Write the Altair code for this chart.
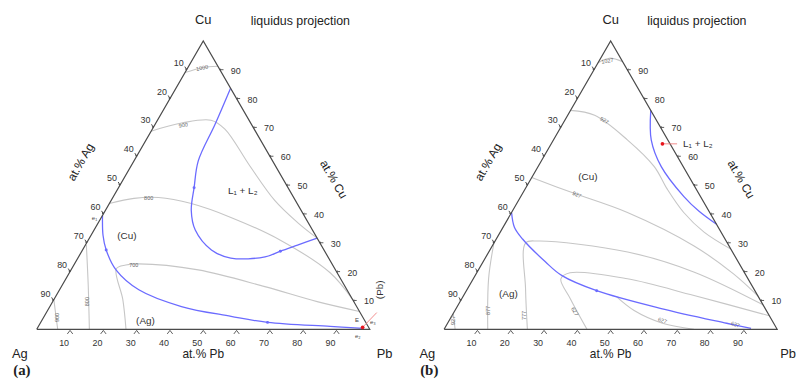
import altair as alt
import numpy as np
import pandas as pd

# ---------------- data (compositions in at.%: Pb, Cu ; Ag = 100 - Pb - Cu) ----------------
TICKS = [10, 20, 30, 40, 50, 60, 70, 80, 90]

# panel (a) liquidus isotherms (gray)
A_GRAY = {
    "1000": ([0, 4.3, 8.8], [89.0, 90.7, 91.2]),
    "900": ([0, 7.7, 16.1, 21.8, 35.6, 49.1, 59.7, 68.4], [68.7, 71.5, 72.5, 69.4, 56.7, 44.7, 37.1, 31.6]),
    "800": ([0, 6.5, 13.7, 24.6, 38.9, 57.7, 78.3, 89.7], [43.6, 45.4, 45.7, 43.6, 38.8, 30.9, 19.6, 10.3]),
    "700": ([26.8, 20.7, 13.4, 15.6, 19.3, 38.2, 61.1, 79.4, 93.8], [0, 10.3, 21.0, 22.3, 22.7, 20.6, 14.8, 9.6, 6.2]),
    "800v": ([0.3, 7.7, 15.8], [29.2, 15.5, 0]),
    "900v": ([0, 3.1, 6.3], [10.3, 5.2, 0]),
}
# panel (a) monovariant lines (blue)
A_BLUE = {
    "L1L2": ([16.4, 18.0, 19.3, 22.7, 25.8, 30.4, 38.7, 45.9, 56.0, 59.6, 63.7, 68.4],
             [83.6, 71.1, 58.4, 49.1, 41.2, 34.4, 27.5, 24.7, 25.1, 27.1, 29.2, 31.6]),
    "e1E": ([0, 3.6, 7.1, 13.5, 23.8, 39.5, 56.1, 68.1, 87.6, 98.0],
            [39.5, 32.6, 27.5, 20.6, 13.7, 7.9, 4.5, 2.4, 1.0, 0.3]),
}
A_DOT_PB = [22.7, 59.6, 7.1, 68.1]
A_DOT_CU = [49.1, 27.1, 27.5, 2.4]
A_RED_PB = [97.5]
A_RED_CU = [0.7]
A_REDLINE_PB = [97.5, 99.2]
A_REDLINE_CU = [0.7, 5.8]
A_ISO_TEXT = ["1000", "900", "800", "700", "800", "900"]
A_ISO_PB = [4.3, 8.6, 10.9, 18.0, 10.4, 3.9]
A_ISO_CU = [90.7, 70.8, 45.4, 22.3, 9.6, 4.1]
A_ISO_ANG = [348, 352, 0, 0, 270, 270]
A_PHASE_TEXT = ["(Cu)", "(Ag)", "L\u2081 + L\u2082"]
A_PHASE_PB = [10.9, 31.3, 37.8]
A_PHASE_CU = [32.3, 2.7, 48.1]
A_SMALL_TEXT = ["E", "e\u2081", "e\u2082", "e\u2083"]
A_SMALL_PB = [94.6, -1.9, 97.6, 99.7]
A_SMALL_CU = [3.1, 38.5, -2.4, 2.4]

# panel (b)
B_GRAY = {
    "1027": ([0, 2.6, 7.2], [92.4, 94.0, 92.8]),
    "927u": ([0, 8.1, 22.3, 34.9, 42.8, 51.7, 61.2, 72.2], [75.9, 74.2, 65.6, 56.4, 48.5, 40.5, 33.7, 27.8]),
    "927l": ([0, 14.7, 34.8, 60.6, 77.3, 88.5], [52.6, 47.4, 40.5, 28.9, 19.2, 11.5]),
    "c": ([25.0, 17.4, 9.5, 13.0, 41.7, 65.0, 91.5], [0, 14.1, 29.9, 30.6, 26.8, 19.9, 8.5]),
    "d": ([42.9, 32.5, 26.3, 28.0, 46.3, 69.2, 95.3], [0, 10.7, 17.5, 19.6, 17.5, 11.7, 4.7]),
    "e": ([46.1, 53.8, 64.5, 75.0], [11.3, 6.5, 2.1, 0]),
    "f": ([0, 4.6, 13.1], [29.9, 17.5, 0]),
    "g": ([0, 3.3], [5.5, 0]),
}
B_BLUE = {
    "L1L2": ([24.1, 29.4, 37.0, 49.0, 56.1, 63.6], [75.9, 65.6, 56.4, 46.0, 40.9, 36.4]),
    "e1E": ([0, 3.4, 7.9, 18.7, 26.1, 39.1, 61.6, 83.8, 92.0], [40.5, 35.4, 31.3, 23.4, 18.6, 13.4, 7.2, 2.1, 0.3]),
}
B_DOT_PB = [39.1]
B_DOT_CU = [13.4]
B_RED_PB = [33.4]
B_RED_CU = [64.3]
B_REDLINE_PB = [33.4, 37.8]
B_REDLINE_CU = [64.3, 64.3]
B_ISO_TEXT = ["1027", "927", "927", "927", "877", "777", "627", "627", "627"]
B_ISO_PB = [2.5, 11.9, 16.5, 1.2, 9.8, 21.7, 36.2, 64.0, 86.6]
B_ISO_CU = [93.1, 72.5, 46.7, 3.1, 6.5, 4.8, 6.2, 3.1, 1.7]
B_ISO_ANG = [350, 30, 25, 270, 270, 270, 60, 20, 20]
B_PHASE_TEXT = ["(Cu)", "(Ag)"]
B_PHASE_PB = [16.7, 13.1]
B_PHASE_CU = [52.9, 12.4]
B_L12_PB = [38.7]
B_L12_CU = [64.3]

# axis-title anchor compositions (outside the triangle)
AG_TITLE_PB, AG_TITLE_CU = -15.8, 58.0
CU_TITLE_PB, CU_TITLE_CU = 63.2, 52.0

# ---------------- helpers ----------------
S = np.sqrt(3) / 2
SANS = "Liberation Sans"
GRAY = "#c6c6c6"
BLUE = "#6b6bff"
DARK = "#4a4a4a"
YS = alt.Scale(domain=[-0.1443, 0.9598], nice=False, zero=False)
X0 = -0.0863
PX = 336.0  # pixels per unit side


def xy(pb, cu):
    pb = np.asarray(pb, float)
    cu = np.asarray(cu, float)
    return pb / 100 + cu / 200, cu / 100 * S


def pts(pb, cu, **extra):
    x, y = xy(pb, cu)
    d = pd.DataFrame({"x": x, "y": y, "i": np.arange(len(x))})
    for k, v in extra.items():
        d[k] = v
    return d


def curves(dct):
    frames = []
    for name, (pb, cu) in dct.items():
        frames.append(pts(pb, cu, curve=name))
    return pd.concat(frames, ignore_index=True)


ARROW = "M0,0L2.4,0M0,0L0.75,-0.6M0,0L0.75,0.6"
CARET = "M-1,1.7L0,0.4L1,1.7"


def panel(width, gray, blue, dot_pb, dot_cu, red_pb, red_cu, rl_pb, rl_cu,
          iso_t, iso_pb, iso_cu, iso_ang, ph_t, ph_pb, ph_cu, letter, liq_dx, pb_dx, extra):
    XS = alt.Scale(domain=[X0, X0 + width / PX], nice=False, zero=False)

    def enc(**kw):
        return dict(x=alt.X("x:Q", scale=XS, axis=None), y=alt.Y("y:Q", scale=YS, axis=None), **kw)

    def text_layer(df, size=9, color="#333", **mk):
        return alt.Chart(df).mark_text(font=SANS, fontSize=size, color=color, **mk).encode(**enc(text="t:N"))

    layers = []
    layers.append(alt.Chart(curves(gray)).mark_line(color=GRAY, strokeWidth=1.1, interpolate="catmull-rom")
                  .encode(**enc(detail="curve:N", order="i:Q")))
    layers.append(alt.Chart(curves(blue)).mark_line(color=BLUE, strokeWidth=1.3, interpolate="catmull-rom")
                  .encode(**enc(detail="curve:N", order="i:Q")))
    vpb = [0, 100, 0, 0]
    vcu = [0, 0, 100, 0]
    layers.append(alt.Chart(pts(vpb, vcu)).mark_line(color=DARK, strokeWidth=1.2)
                  .encode(**enc(order="i:Q")))
    t = np.array(TICKS, float)
    zeros = np.zeros_like(t)
    bottom = pts(t, zeros, t=[str(int(v)) for v in t])
    left = pts(zeros, 100 - t, t=[str(int(v)) for v in t])
    right = pts(100 - t, t, t=[str(int(v)) for v in t])
    layers.append(alt.Chart(bottom).mark_point(shape=CARET, size=30, filled=False, color=DARK, strokeWidth=0.9, opacity=1)
                  .encode(**enc()))
    layers.append(alt.Chart(left).mark_point(shape=ARROW, size=9, filled=False, color=DARK, strokeWidth=0.9, opacity=1, angle=240)
                  .encode(**enc()))
    layers.append(alt.Chart(right).mark_point(shape=ARROW, size=9, filled=False, color=DARK, strokeWidth=0.9, opacity=1)
                  .encode(**enc()))
    layers.append(text_layer(bottom, dx=-6, dy=14))
    layers.append(text_layer(left, dx=-8, dy=-7))
    layers.append(text_layer(right, align="left", dx=11, dy=1))
    layers.append(alt.Chart(pts(dot_pb, dot_cu)).mark_circle(color=BLUE, size=9, opacity=1).encode(**enc()))
    layers.append(alt.Chart(pts(rl_pb, rl_cu)).mark_line(color="#f08080", strokeWidth=0.9).encode(**enc(order="i:Q")))
    layers.append(alt.Chart(pts(red_pb, red_cu)).mark_circle(color="#e8141c", size=14, opacity=1).encode(**enc()))
    iso = pts(iso_pb, iso_cu, t=iso_t, a=iso_ang)
    layers.append(alt.Chart(iso).mark_text(font=SANS, fontSize=5.5, color="#666")
                  .encode(**enc(text="t:N", angle=alt.Angle("a:Q", scale=None))))
    layers.append(text_layer(pts(ph_pb, ph_cu, t=ph_t), size=10))
    lab = [
        ("Cu", 0, 100, 0, -21, 13, SANS, "normal", 0),
        ("liquidus projection", 0, 100, liq_dx, -20, 12.5, SANS, "normal", 0),
        ("Ag", 0, 0, -17, 25, 13, SANS, "normal", 0),
        ("Pb", 100, 0, pb_dx, 25, 13, SANS, "normal", 0),
        ("at.% Pb", 50, 0, 0, 25, 12, SANS, "normal", 0),
        ("at.% Ag", AG_TITLE_PB, AG_TITLE_CU, 0, 0, 12, SANS, "normal", 300),
        ("at.% Cu", CU_TITLE_PB, CU_TITLE_CU, 0, 0, 12, SANS, "normal", 60),
        (letter, 0, 0, -15, 41, 15, "Liberation Serif", "bold", 0),
    ]
    for (s, pb, cu, dx, dy, fs, fnt, fw, ang) in lab:
        layers.append(alt.Chart(pts([pb], [cu], t=[s])).mark_text(
            font=fnt, fontSize=fs, fontWeight=fw, color="#222", dx=dx, dy=dy, angle=ang)
            .encode(**enc(text="t:N")))
    for (df, kw) in extra:
        layers.append(text_layer(df, **kw))
    return alt.layer(*layers).properties(width=width, height=371)


a_extra = [
    (pts(A_SMALL_PB, A_SMALL_CU, t=A_SMALL_TEXT), dict(size=6, color="#444")),
    (pts([96.1], [13.7], t=["(Pb)"]), dict(size=10, angle=270)),
]
b_extra = [
    (pts(B_L12_PB, B_L12_CU, t=["L\u2081 + L\u2082"]), dict(size=10, align="left", dx=3)),
]

pa = panel(411, A_GRAY, A_BLUE, A_DOT_PB, A_DOT_CU, A_RED_PB, A_RED_CU, A_REDLINE_PB, A_REDLINE_CU,
           A_ISO_TEXT, A_ISO_PB, A_ISO_CU, A_ISO_ANG, A_PHASE_TEXT, A_PHASE_PB, A_PHASE_CU, "(a)", 98, 15, a_extra)
pb = panel(377, B_GRAY, B_BLUE, B_DOT_PB, B_DOT_CU, B_RED_PB, B_RED_CU, B_REDLINE_PB, B_REDLINE_CU,
           B_ISO_TEXT, B_ISO_PB, B_ISO_CU, B_ISO_ANG, B_PHASE_TEXT, B_PHASE_PB, B_PHASE_CU, "(b)", 87, 11, b_extra)

chart = alt.hconcat(pa, pb, spacing=0, bounds="flush").properties(
    padding=0
).configure_view(stroke=None)

chart.save("out.html", embed_options={"renderer": "svg", "actions": False})
